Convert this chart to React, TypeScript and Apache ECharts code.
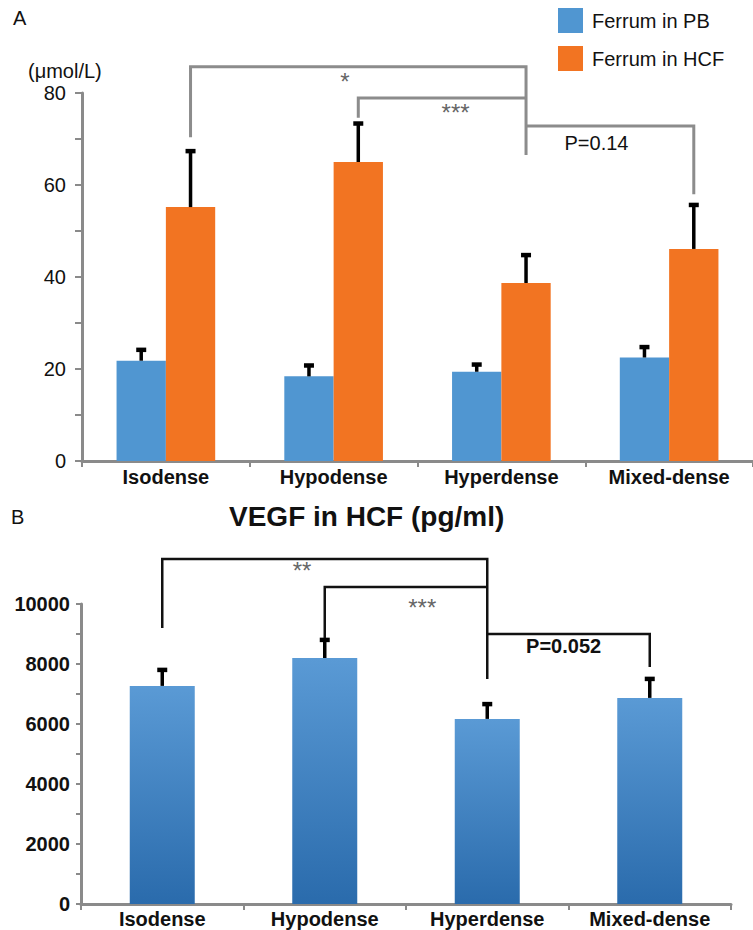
import React, { useEffect, useRef } from "react";
import * as echarts from "echarts";

const categories = ["Isodense", "Hypodense", "Hyperdense", "Mixed-dense"];

// Panel A: Ferrum (µmol/L)
const ferrumPB = [21.8, 18.4, 19.4, 22.5];
const ferrumPBErr = [2.8, 2.8, 2.0, 2.7];
const ferrumHCF = [55.2, 65.0, 38.7, 46.1];
const ferrumHCFErr = [12.6, 8.8, 6.5, 10.0];
const ferrumLabelTicks = [0, 20, 40, 60, 80];

// Panel B: VEGF in HCF (pg/ml)
const vegfHCF = [7270, 8200, 6170, 6870];
const vegfHCFErr = [600, 670, 560, 700];
const vegfLabelTicks = [0, 2000, 4000, 6000, 8000, 10000];

// Significance brackets (category indices and y-levels in data units)
const bracketsA = [
  { from: 0, to: 2, level: 85.7, fromEnd: 70.4, toEnd: 66.5, label: "*", labelAt: 0.46, labelValue: 82.4 },
  { from: 1, to: 2, level: 78.9, fromEnd: 74.6, toEnd: null, label: "***", labelAt: 0.58, labelValue: 75.7 },
  { from: 2, to: 3, level: 72.8, fromEnd: null, toEnd: 58.0, label: "P=0.14", labelAt: 0.42, labelValue: 69.1 },
];
const bracketsB = [
  { from: 0, to: 2, level: 11500, fromEnd: 9200, toEnd: 7500, label: "**", labelAt: 0.43, labelValue: 11120 },
  { from: 1, to: 2, level: 10570, fromEnd: 8870, toEnd: null, label: "***", labelAt: 0.6, labelValue: 9890 },
  { from: 2, to: 3, level: 9000, fromEnd: null, toEnd: 7900, label: "P=0.052", labelAt: 0.47, labelValue: 8600 },
];

const FONT = 'Arial, "Liberation Sans", Helvetica, sans-serif';
const AXIS_GRAY = "#8a8a8a";
const BLUE = "#5096D1";
const ORANGE = "#F27422";

function errorRender(offsetFrac: number, capW: number) {
  return (params: any, api: any) => {
    const i = api.value(0);
    const v = api.value(1);
    const e = api.value(2);
    const band = api.size([1, 0])[0];
    const base = api.coord([i, v]);
    const top = api.coord([i, v + e]);
    const x = base[0] + offsetFrac * band;
    return {
      type: "group",
      children: [
        { type: "line", shape: { x1: x, y1: base[1], x2: x, y2: top[1] + 2 }, style: { stroke: "#000", lineWidth: 3.5 } },
        { type: "line", shape: { x1: x - capW / 2, y1: top[1] + 2, x2: x + capW / 2, y2: top[1] + 2 }, style: { stroke: "#000", lineWidth: 4.5 } },
      ],
    };
  };
}

function bracketRender(brackets: any[], offsetFrac: number, color: string, width: number, fonts: string[], textColors: string[]) {
  return (params: any, api: any) => {
    const b = brackets[params.dataIndex];
    const band = api.size([1, 0])[0];
    const px = (cat: number, val: number) => {
      const p = api.coord([cat, val]);
      return [p[0] + offsetFrac * band, p[1]];
    };
    const pts: number[][] = [];
    if (b.fromEnd != null) pts.push(px(b.from, b.fromEnd));
    pts.push(px(b.from, b.level));
    pts.push(px(b.to, b.level));
    if (b.toEnd != null) pts.push(px(b.to, b.toEnd));
    const a = px(b.from, b.labelValue);
    const c = px(b.to, b.labelValue);
    const lx = a[0] + (c[0] - a[0]) * b.labelAt;
    return {
      type: "group",
      children: [
        { type: "polyline", shape: { points: pts }, style: { stroke: color, lineWidth: width, fill: null } },
        {
          type: "text",
          x: lx,
          y: a[1],
          style: {
            text: b.label,
            font: fonts[params.dataIndex],
            fill: textColors[params.dataIndex],
            align: "center",
            verticalAlign: "middle",
            textAlign: "center",
            textVerticalAlign: "middle",
          },
        },
      ],
    };
  };
}

export default function App() {
  const ref = useRef<HTMLDivElement>(null);

  useEffect(() => {
    if (!ref.current) return;
    const chart = echarts.init(ref.current, null, { renderer: "svg" });

    const axisLine = { show: true, lineStyle: { color: AXIS_GRAY, width: 3 } };

    const option: any = {
      animation: false,
      backgroundColor: "#fff",
      title: {
        text: "VEGF in HCF (pg/ml)",
        left: 229,
        top: 502,
        padding: 0,
        textStyle: { fontFamily: FONT, fontSize: 28, fontWeight: "bold", color: "#111" },
      },
      legend: {
        orient: "vertical",
        left: 558,
        top: 8,
        itemWidth: 25,
        itemHeight: 25,
        itemGap: 13,
        padding: 0,
        icon: "rect",
        data: ["Ferrum in PB", "Ferrum in HCF"],
        textStyle: { fontFamily: FONT, fontSize: 20, color: "#111", padding: [0, 0, 0, 4] },
      },
      graphic: [
        { type: "text", left: 13, top: 8, style: { text: "A", font: `20px ${FONT}`, fill: "#111" } },
        { type: "text", left: 28, top: 61, style: { text: "(μmol/L)", font: `20px ${FONT}`, fill: "#111" } },
        { type: "text", left: 11, top: 507, style: { text: "B", font: `20px ${FONT}`, fill: "#111" } },
      ],
      grid: [
        { left: 82, top: 93, width: 680, height: 368 },
        { left: 81, top: 604, width: 650, height: 300 },
      ],
      xAxis: [
        {
          gridIndex: 0,
          type: "category",
          data: categories,
          axisLine,
          axisTick: { show: true, length: 6, interval: 0, lineStyle: { color: AXIS_GRAY, width: 2 } },
          axisLabel: { interval: 0, margin: 6, fontFamily: FONT, fontSize: 20, fontWeight: "bold", color: "#111" },
        },
        {
          gridIndex: 1,
          type: "category",
          data: categories,
          axisLine,
          axisTick: { show: true, length: 6, interval: 0, lineStyle: { color: AXIS_GRAY, width: 2 } },
          axisLabel: { interval: 0, margin: 5, fontFamily: FONT, fontSize: 20, fontWeight: "bold", color: "#111" },
        },
      ],
      yAxis: [
        {
          gridIndex: 0,
          type: "value",
          min: 0,
          max: 80,
          interval: 10,
          axisLine,
          axisTick: { show: true, length: 7, lineStyle: { color: AXIS_GRAY, width: 2 } },
          splitLine: { show: false },
          axisLabel: {
            margin: 16,
            fontFamily: FONT,
            fontSize: 20,
            color: "#111",
            formatter: (v: number) => (ferrumLabelTicks.includes(v) ? String(v) : ""),
          },
        },
        {
          gridIndex: 1,
          type: "value",
          min: 0,
          max: 10000,
          interval: 1000,
          axisLine,
          axisTick: { show: true, length: 5, lineStyle: { color: AXIS_GRAY, width: 2 } },
          splitLine: { show: false },
          axisLabel: {
            margin: 11,
            fontFamily: FONT,
            fontSize: 20,
            fontWeight: "bold",
            color: "#111",
            formatter: (v: number) => (vegfLabelTicks.includes(v) ? String(v) : ""),
          },
        },
      ],
      series: [
        {
          name: "Ferrum in PB",
          type: "bar",
          xAxisIndex: 0,
          yAxisIndex: 0,
          data: ferrumPB,
          barWidth: "29.4%",
          barGap: "0%",
          itemStyle: { color: BLUE },
        },
        {
          name: "Ferrum in HCF",
          type: "bar",
          xAxisIndex: 0,
          yAxisIndex: 0,
          data: ferrumHCF,
          barWidth: "29.4%",
          barGap: "0%",
          itemStyle: { color: ORANGE },
        },
        {
          name: "errPB",
          type: "custom",
          xAxisIndex: 0,
          yAxisIndex: 0,
          clip: false,
          encode: { x: 0, y: 1 },
          data: ferrumPB.map((v, i) => [i, v, ferrumPBErr[i]]),
          renderItem: errorRender(-0.147, 10),
          z: 5,
        },
        {
          name: "errHCF",
          type: "custom",
          xAxisIndex: 0,
          yAxisIndex: 0,
          clip: false,
          encode: { x: 0, y: 1 },
          data: ferrumHCF.map((v, i) => [i, v, ferrumHCFErr[i]]),
          renderItem: errorRender(0.147, 10),
          z: 5,
        },
        {
          name: "bracketsA",
          type: "custom",
          xAxisIndex: 0,
          yAxisIndex: 0,
          clip: false,
          encode: { x: 0, y: 1 },
          data: bracketsA.map((b) => [b.from, b.level]),
          renderItem: bracketRender(
            bracketsA,
            0.147,
            "#8c8c8c",
            3,
            [`24px ${FONT}`, `24px ${FONT}`, `20px ${FONT}`],
            ["#666", "#666", "#111"]
          ),
          z: 6,
        },
        {
          name: "VEGF",
          type: "bar",
          xAxisIndex: 1,
          yAxisIndex: 1,
          data: vegfHCF,
          barWidth: "40%",
          itemStyle: {
            color: new echarts.graphic.LinearGradient(0, 0, 0, 1, [
              { offset: 0, color: "#5A9AD5" },
              { offset: 1, color: "#2A6BAC" },
            ]),
          },
        },
        {
          name: "errVEGF",
          type: "custom",
          xAxisIndex: 1,
          yAxisIndex: 1,
          clip: false,
          encode: { x: 0, y: 1 },
          data: vegfHCF.map((v, i) => [i, v, vegfHCFErr[i]]),
          renderItem: errorRender(0, 10),
          z: 5,
        },
        {
          name: "bracketsB",
          type: "custom",
          xAxisIndex: 1,
          yAxisIndex: 1,
          clip: false,
          encode: { x: 0, y: 1 },
          data: bracketsB.map((b) => [b.from, b.level]),
          renderItem: bracketRender(
            bracketsB,
            0,
            "#111",
            2.5,
            [`24px ${FONT}`, `24px ${FONT}`, `bold 20px ${FONT}`],
            ["#666", "#666", "#111"]
          ),
          z: 6,
        },
      ],
    };

    chart.setOption(option);
    return () => chart.dispose();
  }, []);

  return (
    <div
      ref={ref}
      style={{ position: "absolute", left: 0, top: 0, width: 753, height: 930, background: "#fff" }}
    />
  );
}
